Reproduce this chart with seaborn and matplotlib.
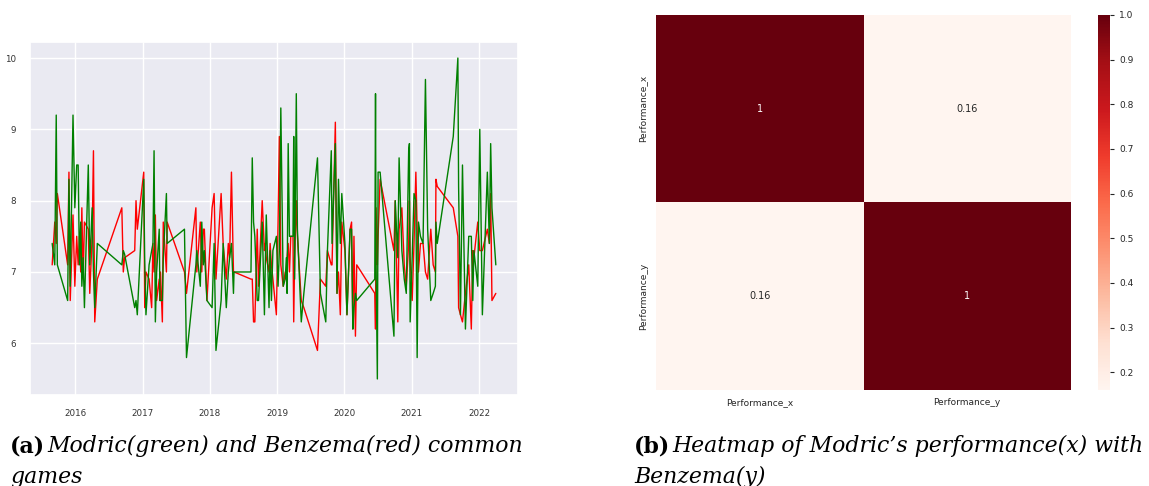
import numpy as np
import pandas as pd
import matplotlib
matplotlib.use("Agg")
import matplotlib.pyplot as plt
from matplotlib.ticker import MultipleLocator
import seaborn as sns

# Common Real Madrid games: match dates and player ratings
match_dates = [
    "2015-08-29", "2015-09-12", "2015-09-20", "2015-09-26", "2015-11-21", "2015-11-28",
    "2015-12-05", "2015-12-20", "2015-12-30", "2016-01-09", "2016-01-17", "2016-01-24",
    "2016-01-31", "2016-02-06", "2016-02-13", "2016-02-20", "2016-03-12", "2016-03-20",
    "2016-04-02", "2016-04-09", "2016-04-16", "2016-04-30", "2016-09-10", "2016-09-18",
    "2016-09-25", "2016-11-19", "2016-11-26", "2016-12-03", "2017-01-07", "2017-01-12",
    "2017-01-19", "2017-02-05", "2017-02-19", "2017-02-26", "2017-03-04", "2017-03-11",
    "2017-03-18", "2017-04-01", "2017-04-05", "2017-04-08", "2017-04-18", "2017-04-23",
    "2017-05-10", "2017-05-14", "2017-08-16", "2017-08-27", "2017-10-17", "2017-10-22",
    "2017-11-10", "2017-11-18", "2017-11-26", "2017-12-02", "2017-12-16", "2018-01-13",
    "2018-01-24", "2018-02-03", "2018-03-03", "2018-03-14", "2018-03-31", "2018-04-11",
    "2018-04-18", "2018-04-28", "2018-05-09", "2018-05-12", "2018-08-12", "2018-08-19",
    "2018-08-26", "2018-09-02", "2018-09-15", "2018-09-22", "2018-10-12", "2018-10-24",
    "2018-10-28", "2018-11-03", "2018-11-18", "2018-11-24", "2018-12-01", "2018-12-09",
    "2018-12-28", "2019-01-06", "2019-01-13", "2019-01-21", "2019-02-03", "2019-02-14",
    "2019-02-20", "2019-02-24", "2019-03-02", "2019-03-09", "2019-03-16", "2019-03-28",
    "2019-04-01", "2019-04-06", "2019-04-15", "2019-04-21", "2019-05-12", "2019-05-26",
    "2019-08-08", "2019-08-24", "2019-09-22", "2019-10-01", "2019-10-22", "2019-10-26",
    "2019-11-13", "2019-11-22", "2019-11-30", "2019-12-10", "2019-12-18", "2020-01-04",
    "2020-01-15", "2020-02-01", "2020-02-09", "2020-02-16", "2020-02-22", "2020-03-01",
    "2020-03-08", "2020-06-14", "2020-06-18", "2020-06-21", "2020-06-28", "2020-07-02",
    "2020-07-13", "2020-09-26", "2020-10-03", "2020-10-17", "2020-10-24", "2020-11-08",
    "2020-11-21", "2020-12-02", "2020-12-15", "2020-12-19", "2020-12-23", "2021-01-03",
    "2021-01-13", "2021-01-23", "2021-01-30", "2021-02-06", "2021-02-17", "2021-03-03",
    "2021-03-16", "2021-03-28", "2021-04-14", "2021-04-27", "2021-05-09", "2021-05-12",
    "2021-05-19", "2021-08-14", "2021-09-08", "2021-09-12", "2021-09-22", "2021-10-03",
    "2021-10-19", "2021-11-06", "2021-11-20", "2021-11-28", "2021-12-04", "2021-12-25",
    "2022-01-05", "2022-01-19", "2022-02-15", "2022-02-26", "2022-03-05", "2022-03-12",
    "2022-04-02",
]

modric_rating = [
    7.4, 7.1, 9.2, 7.1, 6.6, 8.3,
    6.8, 9.2, 7.9, 8.5, 8.5, 7.1,
    7.7, 6.8, 7.2, 6.5, 8.5, 7.1,
    7.9, 7.0, 6.5, 7.4, 7.1, 7.3,
    7.25, 6.5, 6.6, 6.4, 8.3, 7.2,
    6.4, 7.1, 7.3, 7.4, 8.7, 6.3,
    7.0, 7.6, 6.6, 6.6, 6.6, 7.2,
    8.1, 7.4, 7.6, 5.8, 7.1, 7.3,
    6.8, 7.7, 7.1, 7.3, 6.6, 6.5,
    7.4, 5.9, 6.6, 7.4, 6.5, 7.0,
    7.2, 7.4, 6.7, 7.0, 7.0, 8.6,
    7.7, 7.5, 6.6, 6.6, 7.7, 6.4,
    7.0, 7.8, 6.5, 7.3, 6.6, 7.3,
    7.5, 6.8, 7.3, 9.3, 6.8, 6.9,
    7.2, 6.7, 8.8, 7.5, 7.5, 7.5,
    8.9, 6.9, 9.5, 7.6, 6.3, 6.7,
    8.6, 6.7, 6.3, 7.3, 8.7, 7.4,
    8.8, 6.7, 8.3, 7.4, 8.1, 7.4,
    6.4, 7.6, 7.6, 6.2, 6.5, 6.7,
    6.6, 6.9, 9.5, 7.1, 5.5, 8.4,
    8.4, 6.1, 8.0, 7.2, 8.6, 7.3,
    6.9, 6.7, 8.7, 8.8, 6.3, 7.2,
    8.1, 8.0, 5.8, 7.7, 7.5, 7.4,
    9.7, 7.6, 6.6, 6.7, 6.8, 7.7,
    7.4, 8.9, 10.0, 8.2, 6.4, 8.5,
    6.2, 7.5, 7.5, 6.6, 7.3, 6.8,
    9.0, 6.4, 8.4, 7.4, 8.8, 7.9,
    7.1,
]

benzema_rating = [
    7.1, 7.7, 7.4, 8.1, 7.1, 8.4,
    6.6, 7.8, 6.8, 7.5, 7.1, 7.5,
    7.0, 7.9, 6.9, 7.7, 7.6, 6.7,
    7.5, 8.7, 6.3, 6.9, 7.9, 7.0,
    7.2, 7.3, 8.0, 7.6, 8.4, 6.5,
    7.0, 6.9, 6.5, 7.4, 7.0, 7.8,
    6.6, 6.9, 6.6, 7.0, 6.3, 7.7,
    7.0, 7.7, 7.0, 6.7, 7.9, 7.0,
    7.7, 7.0, 7.6, 7.6, 6.6, 7.9,
    8.1, 6.9, 8.1, 7.4, 6.9, 7.4,
    7.2, 8.4, 7.0, 7.0, 6.9, 6.9,
    6.3, 6.3, 7.6, 6.8, 8.0, 7.3,
    7.4, 7.2, 7.0, 7.4, 7.1, 6.9,
    6.4, 7.7, 8.9, 7.1, 6.8, 7.0,
    6.9, 7.2, 7.4, 7.0, 7.5, 7.5,
    6.3, 7.2, 8.0, 7.5, 6.6, 6.5,
    5.9, 6.9, 6.8, 7.3, 7.1, 7.1,
    9.1, 6.7, 7.0, 6.4, 7.7, 7.3,
    6.4, 7.6, 7.7, 6.2, 7.5, 6.1,
    7.1, 6.7, 6.2, 7.9, 7.1, 7.5,
    8.3, 7.3, 8.0, 6.3, 7.6, 7.9,
    7.1, 6.8, 7.4, 8.0, 7.2, 6.6,
    7.4, 8.4, 7.6, 7.0, 7.4, 7.4,
    7.0, 6.9, 7.6, 7.1, 7.0, 8.3,
    8.2, 7.9, 7.5, 6.5, 6.4, 6.3,
    6.7, 7.1, 6.2, 7.3, 7.2, 7.7,
    7.3, 7.3, 7.6, 7.4, 8.1, 6.6,
    6.7,
]

# Correlation between the two performance series
corr_labels = ["Performance_x", "Performance_y"]
corr_values = [[1.0, 0.16],
               [0.16, 1.0]]

sns.set_theme(style="darkgrid")
plt.rcParams["font.family"] = ["DejaVu Sans"]

W, H = 1149, 486
fig = plt.figure(figsize=(W / 100, H / 100), dpi=100)

def px_rect(x0, y0, x1, y1):
    return [x0 / W, 1 - y1 / H, (x1 - x0) / W, (y1 - y0) / H]

# --- (a) ratings over time ---
ax1 = fig.add_axes(px_rect(30, 42, 518, 395))
dates = pd.to_datetime(match_dates)
sns.lineplot(x=dates, y=benzema_rating, color="red", linewidth=1.0, ax=ax1)
sns.lineplot(x=dates, y=modric_rating, color="green", linewidth=1.0, ax=ax1)
ax1.yaxis.set_major_locator(MultipleLocator(1))
ax1.set_xlabel("")
ax1.set_ylabel("")
ax1.tick_params(labelsize=6.3, colors=".15", pad=4)
for lab in ax1.get_xticklabels() + ax1.get_yticklabels():
    lab.set_color(".2")

# --- (b) correlation heatmap ---
ax2 = fig.add_axes(px_rect(656, 15, 1071, 390))
cax = fig.add_axes(px_rect(1098, 15, 1110, 390))
corr_df = pd.DataFrame(corr_values, index=corr_labels, columns=corr_labels)
sns.heatmap(corr_df, annot=True, cmap="Reds", ax=ax2, cbar_ax=cax,
            annot_kws={"fontsize": 7})
ax2.grid(False)
ax2.tick_params(length=0, labelsize=6.5, pad=6)
ax2.set_yticklabels(corr_labels, rotation=90, va="center")
ax2.set_xticklabels(corr_labels, rotation=0)
cax.yaxis.set_major_locator(MultipleLocator(0.1))
cax.tick_params(labelsize=6.5, length=3, width=0.8, right=True, colors=".15")

# --- captions ---
cap_kw = dict(fontfamily="DejaVu Serif", fontsize=15.8, va="baseline", color="black")
fig.text(10 / W, 1 - 452 / H, "(a)", fontweight="bold", **cap_kw)
fig.text(47 / W, 1 - 452 / H, "Modric(green) and Benzema(red) common",
         style="italic", **cap_kw)
fig.text(10 / W, 1 - 483 / H, "games", style="italic", **cap_kw)
fig.text(634 / W, 1 - 452 / H, "(b)", fontweight="bold", **cap_kw)
fig.text(672 / W, 1 - 452 / H, "Heatmap of Modric\u2019s performance(x) with",
         style="italic", **cap_kw)
fig.text(634 / W, 1 - 483 / H, "Benzema(y)", style="italic", **cap_kw)

fig.savefig("out.png", dpi=100, facecolor="white")
